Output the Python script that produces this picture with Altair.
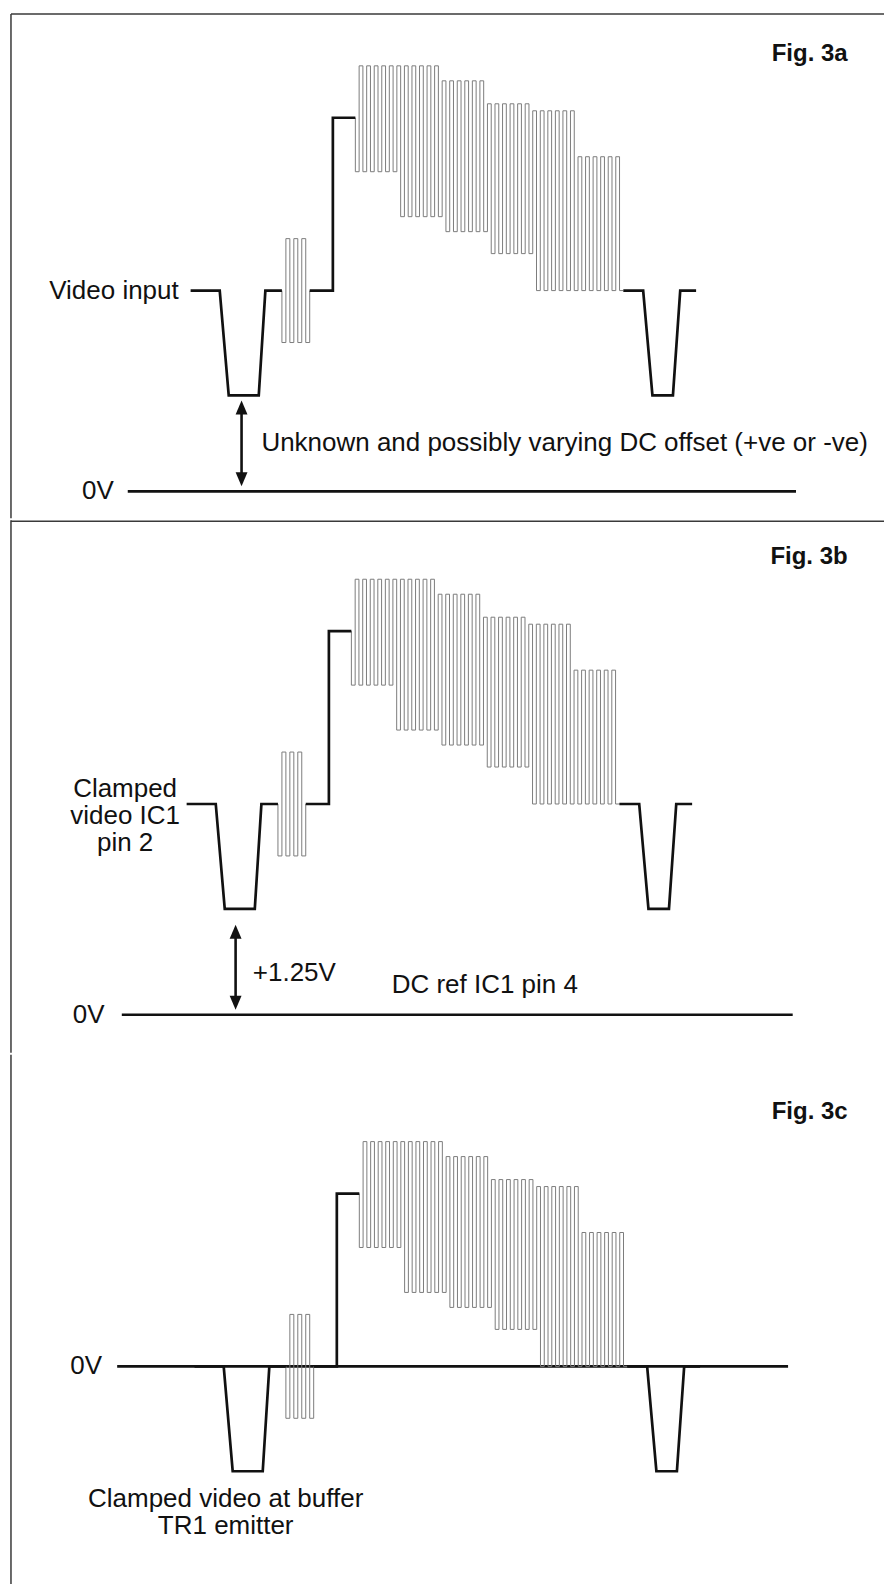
import altair as alt
import pandas as pd

# ---------------- chart geometry (scales) ----------------
X_DOMAIN = [-32.0, 100.4]          # time, microseconds (sync leading edge of Fig. 3a at 0)
PANEL_W = 877
PANEL_H = [508, 530, 530]
Y_DOMAINS = [[-25, 483], [-36, 494], [-219, 311]]   # drawing level units, 0V = 0

# ---------------- waveform template (one TV line, colour bars) ----------------
# times relative to the first sync edge (us); levels relative to blanking
LINE_START = -4.4
SYNC1 = [0.0, 1.36, 5.9, 6.9]        # fall start, tip start, tip end, back at blanking
BURST = [9.4, 13.6]
WHITE_RISE = 17.1
STAIRS = [20.5, 61.0]
SYNC2 = [64.0, 65.4, 68.5, 69.6]
LINE_END = 72.0
SYNC_DEPTH = 105
WHITE_LEVEL = 173
BURST_AMP = 52
BURST_HALF_CYCLES = 7
STAIR_HALF_CYCLES = 71
STAIR_TOP_EDGES = [20.5, 33.4, 40.0, 47.1, 54.0, 61.0]
STAIR_TOP_LEVELS = [225, 210, 187, 180, 134]
STAIR_BOT_EDGES = [20.5, 27.3, 34.0, 40.9, 47.7, 61.0]
STAIR_BOT_LEVELS = [119, 74, 59, 37, 0]

# ---------------- per panel ----------------
BLANKING = [201, 211, 0]
TIME_SHIFT = [0.0, -0.6, 0.6]
ZERO_LINE = [[-13.9, 87.1], [-14.8, 86.6], [-15.5, 85.9]]
ZERO_LABEL_T = [-16.0, -17.4, -17.8]
FIG_LABELS = ["Fig. 3a", "Fig. 3b", "Fig. 3c"]
FIG_LABEL_T = 94.9
FIG_LABEL_LEVEL = [438, 458, 255]
FRAME_LEFT_T = -31.55
FRAME_TOP_LEVEL = 478            # panel a
DIVIDER_LEVEL = 494              # panel b (top edge)

# signal name labels
NAME_LINES = [["Video input"], ["Clamped", "video IC1", "pin 2"],
              ["Clamped video at buffer", "TR1 emitter"]]
NAME_T = [-6.2, -14.3, 0.9]
NAME_LEVELS = [[201], [226, 199, 172], [-133, -160]]
NAME_ALIGN = ["right", "center", "center"]

# annotations (left aligned)
NOTE_TEXT = [["Unknown and possibly varying DC offset (+ve or -ve)"],
             ["+1.25V", "DC ref IC1 pin 4"], []]
NOTE_T = [[6.3], [5.0, 26.0], []]
NOTE_LEVEL = [[48], [42, 30], []]

# double-headed arrows (offset measurement): t, low tip, high tip
ARROW_T = [3.3, 2.4, None]
ARROW_LOW = [5, 5, None]
ARROW_HIGH = [91, 90, None]

FONT = "Liberation Sans, Arial, Helvetica, sans-serif"
FIG_FONT = "Liberation Sans, Arial, Helvetica, sans-serif"
INK = "#111111"
CARRIER = "#7c7c7c"
FRAME = "#3a3a3a"
HEAD = 7   # arrow head half-height in level units


def stair_level(edges, levels, t):
    for k in range(len(levels)):
        if edges[k] <= t < edges[k + 1]:
            return levels[k]
    return levels[-1]


def build_paths(p):
    B = BLANKING[p]
    s = TIME_SHIFT[p]
    black = [
        [(LINE_START, B), (SYNC1[0], B), (SYNC1[1], B - SYNC_DEPTH), (SYNC1[2], B - SYNC_DEPTH),
         (SYNC1[3], B), (BURST[0], B)],
        [(BURST[1], B), (WHITE_RISE, B), (WHITE_RISE, B + WHITE_LEVEL), (STAIRS[0], B + WHITE_LEVEL)],
        [(STAIRS[1], B), (SYNC2[0], B), (SYNC2[1], B - SYNC_DEPTH), (SYNC2[2], B - SYNC_DEPTH),
         (SYNC2[3], B), (LINE_END, B)],
    ]
    rows = []
    for si, seg in enumerate(black):
        for i, (t, v) in enumerate(seg):
            rows.append({"t": t + s, "v": v, "seg": si, "i": i})
    black_df = pd.DataFrame(rows)

    grey = []
    # colour burst
    pts = [(BURST[0], B)]
    h = (BURST[1] - BURST[0]) / BURST_HALF_CYCLES
    for j in range(BURST_HALF_CYCLES):
        lvl = B - BURST_AMP if j % 2 == 0 else B + BURST_AMP
        x0 = BURST[0] + j * h
        pts += [(x0, lvl), (x0 + h, lvl)]
    pts.append((BURST[1], B))
    grey.append(pts)
    # colour-bar staircase with chroma
    pts = [(STAIRS[0], B + WHITE_LEVEL)]
    h = (STAIRS[1] - STAIRS[0]) / STAIR_HALF_CYCLES
    for j in range(STAIR_HALF_CYCLES):
        x0 = STAIRS[0] + j * h
        mid = x0 + h / 2
        if j % 2 == 0:
            lvl = B + stair_level(STAIR_BOT_EDGES, STAIR_BOT_LEVELS, mid)
        else:
            lvl = B + stair_level(STAIR_TOP_EDGES, STAIR_TOP_LEVELS, mid)
        pts += [(x0, lvl), (x0 + h, lvl)]
    pts.append((STAIRS[1], B))
    grey.append(pts)
    rows = []
    for si, seg in enumerate(grey):
        for i, (t, v) in enumerate(seg):
            rows.append({"t": t + s, "v": v, "seg": si, "i": i})
    grey_df = pd.DataFrame(rows)
    return black_df, grey_df


def xe(field="t"):
    return alt.X(f"{field}:Q", scale=alt.Scale(domain=X_DOMAIN, nice=False, zero=False), axis=None)


def ye(p, field="v"):
    return alt.Y(f"{field}:Q", scale=alt.Scale(domain=Y_DOMAINS[p], nice=False, zero=False), axis=None)


def panel(p):
    black_df, grey_df = build_paths(p)
    layers = []
    # frame
    lo, hi = Y_DOMAINS[p]
    top = FRAME_TOP_LEVEL if p == 0 else hi + 1
    layers.append(alt.Chart(pd.DataFrame({"t": [FRAME_LEFT_T], "v": [lo - 2], "v2": [top]}))
                  .mark_rule(color=FRAME, strokeWidth=1.5)
                  .encode(x=xe(), y=ye(p), y2="v2:Q"))
    if p == 0:
        layers.append(alt.Chart(pd.DataFrame({"t": [FRAME_LEFT_T], "t2": [X_DOMAIN[1]], "v": [FRAME_TOP_LEVEL]}))
                      .mark_rule(color=FRAME, strokeWidth=1.5)
                      .encode(x=xe(), x2="t2:Q", y=ye(p)))
    if p == 1:
        layers.append(alt.Chart(pd.DataFrame({"t": [FRAME_LEFT_T], "t2": [X_DOMAIN[1]], "v": [DIVIDER_LEVEL]}))
                      .mark_rule(color=FRAME, strokeWidth=1.5)
                      .encode(x=xe(), x2="t2:Q", y=ye(p)))
    # 0V line
    layers.append(alt.Chart(pd.DataFrame({"t": [ZERO_LINE[p][0]], "t2": [ZERO_LINE[p][1]], "v": [0]}))
                  .mark_rule(color=INK, strokeWidth=2.6)
                  .encode(x=xe(), x2="t2:Q", y=ye(p)))
    # chroma (grey)
    layers.append(alt.Chart(grey_df).mark_line(color=CARRIER, strokeWidth=1.0)
                  .encode(x=xe(), y=ye(p), detail="seg:N", order="i:Q"))
    # luminance / sync (black)
    layers.append(alt.Chart(black_df).mark_line(color=INK, strokeWidth=2.7, strokeJoin="miter")
                  .encode(x=xe(), y=ye(p), detail="seg:N", order="i:Q"))
    # arrow
    if ARROW_T[p] is not None:
        t = ARROW_T[p]
        layers.append(alt.Chart(pd.DataFrame({"t": [t], "v": [ARROW_LOW[p] + HEAD], "v2": [ARROW_HIGH[p] - HEAD]}))
                      .mark_rule(color=INK, strokeWidth=2.6)
                      .encode(x=xe(), y=ye(p), y2="v2:Q"))
        layers.append(alt.Chart(pd.DataFrame({"t": [t], "v": [ARROW_HIGH[p] - HEAD]}))
                      .mark_point(shape="M0,-1L0.85,1L-0.85,1Z", filled=True, size=196, color=INK, opacity=1)
                      .encode(x=xe(), y=ye(p)))
        layers.append(alt.Chart(pd.DataFrame({"t": [t], "v": [ARROW_LOW[p] + HEAD]}))
                      .mark_point(shape="M0,1L0.85,-1L-0.85,-1Z", filled=True, size=196, color=INK, opacity=1)
                      .encode(x=xe(), y=ye(p)))
    # texts
    layers.append(alt.Chart(pd.DataFrame({"t": [ZERO_LABEL_T[p]], "v": [0], "s": ["0V"]}))
                  .mark_text(align="right", baseline="middle", font=FONT, fontSize=26, color=INK)
                  .encode(x=xe(), y=ye(p), text="s:N"))
    layers.append(alt.Chart(pd.DataFrame({"t": [NAME_T[p]] * len(NAME_LINES[p]), "v": NAME_LEVELS[p],
                                          "s": NAME_LINES[p]}))
                  .mark_text(align=NAME_ALIGN[p], baseline="middle", font=FONT, fontSize=26, color=INK)
                  .encode(x=xe(), y=ye(p), text="s:N"))
    if NOTE_TEXT[p]:
        layers.append(alt.Chart(pd.DataFrame({"t": NOTE_T[p], "v": NOTE_LEVEL[p], "s": NOTE_TEXT[p]}))
                      .mark_text(align="left", baseline="middle", font=FONT, fontSize=26, color=INK)
                      .encode(x=xe(), y=ye(p), text="s:N"))
    layers.append(alt.Chart(pd.DataFrame({"t": [FIG_LABEL_T], "v": [FIG_LABEL_LEVEL[p]], "s": [FIG_LABELS[p]]}))
                  .mark_text(align="right", baseline="middle", font=FIG_FONT, fontSize=24,
                             fontWeight="bold", color=INK)
                  .encode(x=xe(), y=ye(p), text="s:N"))
    return alt.layer(*layers).properties(width=PANEL_W, height=PANEL_H[p])


chart = (alt.vconcat(*[panel(p) for p in range(3)], spacing=0)
         .resolve_scale(x="independent", y="independent")
         .properties(padding=0, background="white")
         .configure_view(stroke=None))

chart.save("out.html", embed_options={"renderer": "svg", "actions": False})
